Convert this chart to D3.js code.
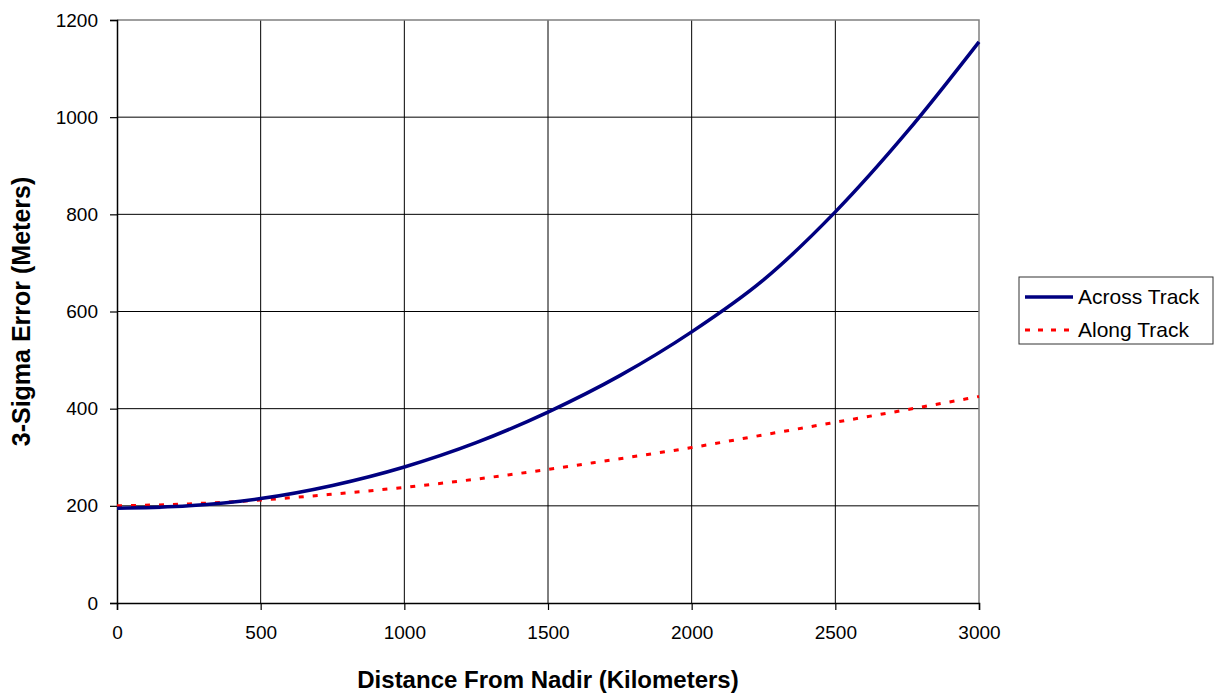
<!DOCTYPE html>
<html>
<head>
<meta charset="utf-8">
<script src="https://cdn.jsdelivr.net/npm/d3@7"></script>
<style>
  body { margin: 0; background: #fff; }
  svg text { font-family: "Liberation Sans", Arial, sans-serif; }
</style>
</head>
<body>
<svg width="1217" height="695"></svg>
<script>
(() => {
    // distance from nadir (km)
    const distances = [0, 250, 500, 750, 1000, 1250, 1500, 1750, 2000, 2250, 2500, 2750, 3000];
    // 3-sigma error (m)
    const acrossTrack = [195, 200, 215, 242, 280, 330, 393, 468, 558, 665, 805, 970, 1155];
    const alongTrack = [200, 204, 212, 224, 238, 255, 275, 297, 320, 346, 372, 398, 425];
    const xTicks = [0, 500, 1000, 1500, 2000, 2500, 3000];
    const yTicks = [0, 200, 400, 600, 800, 1000, 1200];
    const seriesNames = ['Across Track', 'Along Track'];

    const svg = d3.select('svg');
    const left = 117, right = 979, top = 20, bottom = 603;

    const x = d3.scaleLinear().domain([0, 3000]).range([left, right]);
    const y = d3.scaleLinear().domain([0, 1200]).range([bottom, top]);

    // grid
    const grid = svg.append('g');
    grid.selectAll('line.v')
            .data(xTicks.slice(1, -1))
            .enter().append('line')
            .attr('x1', d => x(d)).attr('x2', d => x(d))
            .attr('y1', top).attr('y2', bottom)
            .attr('stroke', '#000').attr('stroke-width', 1);
    grid.selectAll('line.h')
            .data(yTicks.slice(1, -1))
            .enter().append('line')
            .attr('x1', left).attr('x2', right)
            .attr('y1', d => y(d)).attr('y2', d => y(d))
            .attr('stroke', '#000').attr('stroke-width', 1);

    // plot border (top / right gray)
    svg.append('path')
            .attr('d', `M${left},${top}H${right}V${bottom}`)
            .attr('fill', 'none')
            .attr('stroke', '#808080')
            .attr('stroke-width', 1.5);

    // axes
    const fmt = d3.format('d');
    const xAxis = svg.append('g')
            .attr('transform', `translate(0,${bottom})`)
            .call(d3.axisBottom(x).tickValues(xTicks).tickFormat(fmt).tickSize(7).tickPadding(16));
    const yAxis = svg.append('g')
            .attr('transform', `translate(${left},0)`)
            .call(d3.axisLeft(y).tickValues(yTicks).tickFormat(fmt).tickSize(7).tickPadding(12));
    [xAxis, yAxis].forEach(a => {
        a.select('.domain').attr('stroke', '#000').attr('stroke-width', 1.5);
        a.selectAll('.tick line').attr('stroke', '#000').attr('stroke-width', 1.2);
        a.selectAll('.tick text')
                .attr('font-size', '19px')
                .attr('fill', '#000')
                .attr('font-family', '"Liberation Sans", Arial, sans-serif');
    });
    xAxis.selectAll('.tick text').attr('dy', '0.71em');

    // lines
    const line = vals => d3.line()
            .x((d, i) => x(distances[i]))
            .y(d => y(d))
            .curve(d3.curveMonotoneX)(vals);

    svg.append('path')
            .attr('d', line(alongTrack))
            .attr('fill', 'none')
            .attr('stroke', '#ff0000')
            .attr('stroke-width', 3)
            .attr('stroke-dasharray', '5,9');

    svg.append('path')
            .attr('d', line(acrossTrack))
            .attr('fill', 'none')
            .attr('stroke', '#000080')
            .attr('stroke-width', 3.5);

    // axis titles
    svg.append('text')
            .attr('x', (left + right) / 2)
            .attr('y', 688)
            .attr('text-anchor', 'middle')
            .attr('font-size', '24px')
            .attr('font-weight', 'bold')
            .text('Distance From Nadir (Kilometers)');

    svg.append('text')
            .attr('transform', `translate(30,${(top + bottom) / 2}) rotate(-90)`)
            .attr('text-anchor', 'middle')
            .attr('font-size', '25px')
            .attr('font-weight', 'bold')
            .text('3-Sigma Error (Meters)');

    // legend
    const legend = svg.append('g').attr('transform', 'translate(1019,277)');
    legend.append('rect')
            .attr('width', 194).attr('height', 67)
            .attr('fill', '#fff')
            .attr('stroke', '#333').attr('stroke-width', 1);
    const styles = [
        { stroke: '#000080', width: 3.5, dash: null },
        { stroke: '#ff0000', width: 3, dash: '5,8' }
    ];
    seriesNames.forEach((name, i) => {
        const ly = 20 + i * 33;
        legend.append('line')
                .attr('x1', 6).attr('x2', 54)
                .attr('y1', ly).attr('y2', ly)
                .attr('stroke', styles[i].stroke)
                .attr('stroke-width', styles[i].width)
                .attr('stroke-dasharray', styles[i].dash);
        legend.append('text')
                .attr('x', 59).attr('y', ly)
                .attr('dy', '0.35em')
                .attr('font-size', '21px')
                .text(name);
    });
})();
</script>
</body>
</html>
